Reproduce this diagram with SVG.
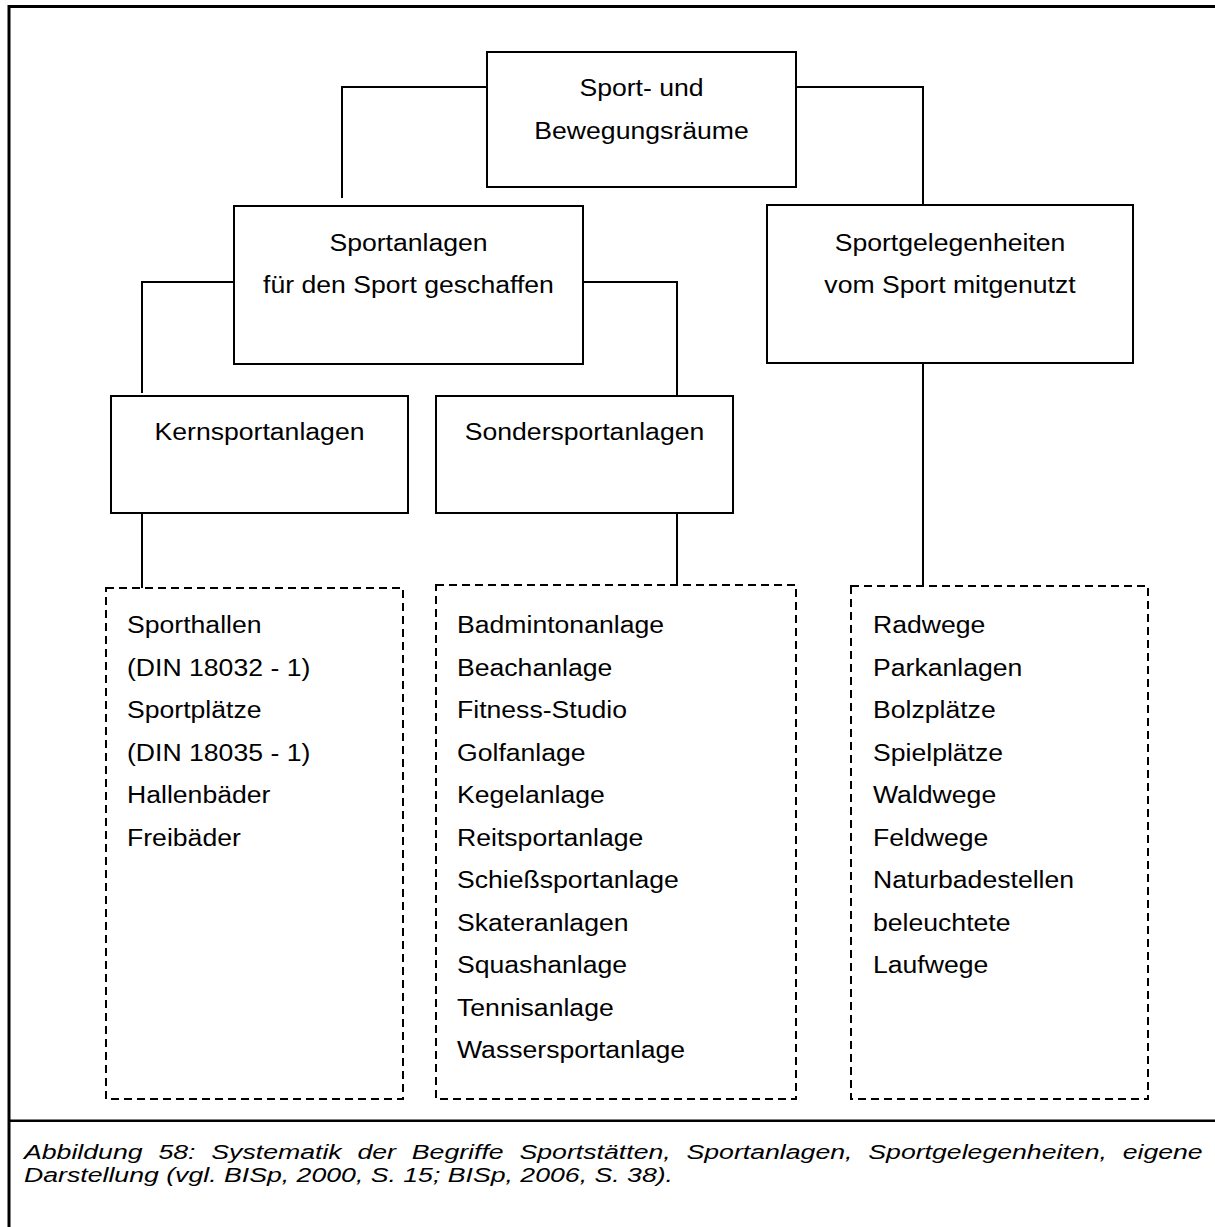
<svg xmlns="http://www.w3.org/2000/svg" width="1215" height="1227" viewBox="0 0 1215 1227">
<style>
  .frame{fill:none;stroke:#000;stroke-width:3}
  .box{fill:#fff;stroke:#000;stroke-width:2}
  .dash{fill:none;stroke:#000;stroke-width:2;stroke-dasharray:8 5}
  .conn{fill:none;stroke:#000;stroke-width:2}
  text{font-family:"Liberation Sans",Arial,sans-serif;font-size:24.5px;fill:#000}
  .c{text-anchor:middle}
  .cap{font-size:20.5px;font-style:italic}
</style>
<rect width="1215" height="1227" fill="#fff"/>
<g id="frame">
  <path class="frame" d="M9,1227 V6.5 H1215"/>
  <path d="M9,1120.7 H1215" stroke="#000" stroke-width="2.5" fill="none"/>
</g>
<g id="connectors">
  <path class="conn" d="M487,87 H342 V198"/>
  <path class="conn" d="M796,87 H923 V205"/>
  <path class="conn" d="M234,282 H142 V393"/>
  <path class="conn" d="M583,282 H677 V396"/>
  <path class="conn" d="M142,513 V588"/>
  <path class="conn" d="M677,513 V585"/>
  <path class="conn" d="M923,363 V586"/>
</g>
<g id="node-root">
  <rect class="box" x="487" y="52" width="309" height="135"/>
  <text class="c" transform="translate(641.5,96) scale(1.086,1)">Sport- und</text>
  <text class="c" transform="translate(641.5,139) scale(1.086,1)">Bewegungsräume</text>
</g>
<g id="node-sportanlagen">
  <rect class="box" x="234" y="206" width="349" height="158"/>
  <text class="c" transform="translate(408.5,251) scale(1.086,1)">Sportanlagen</text>
  <text class="c" transform="translate(408.5,292.5) scale(1.086,1)">für den Sport geschaffen</text>
</g>
<g id="node-sportgelegenheiten">
  <rect class="box" x="767" y="205" width="366" height="158"/>
  <text class="c" transform="translate(950,251) scale(1.086,1)">Sportgelegenheiten</text>
  <text class="c" transform="translate(950,292.5) scale(1.086,1)">vom Sport mitgenutzt</text>
</g>
<g id="node-kernsportanlagen">
  <rect class="box" x="111" y="396" width="297" height="117"/>
  <text class="c" transform="translate(259.5,440) scale(1.086,1)">Kernsportanlagen</text>
</g>
<g id="node-sondersportanlagen">
  <rect class="box" x="436" y="396" width="297" height="117"/>
  <text class="c" transform="translate(584.5,440) scale(1.086,1)">Sondersportanlagen</text>
</g>
<g id="list-kern">
  <rect class="dash" x="106" y="588" width="297" height="511"/>
  <g transform="translate(127,0) scale(1.086,1)">
    <text x="0" y="633.3">Sporthallen</text>
    <text x="0" y="675.8">(DIN 18032 - 1)</text>
    <text x="0" y="718.3">Sportplätze</text>
    <text x="0" y="760.8">(DIN 18035 - 1)</text>
    <text x="0" y="803.3">Hallenbäder</text>
    <text x="0" y="845.8">Freibäder</text>
  </g>
</g>
<g id="list-sonder">
  <rect class="dash" x="436" y="585" width="360" height="514"/>
  <g transform="translate(457,0) scale(1.086,1)">
    <text x="0" y="633.3">Badmintonanlage</text>
    <text x="0" y="675.8">Beachanlage</text>
    <text x="0" y="718.3">Fitness-Studio</text>
    <text x="0" y="760.8">Golfanlage</text>
    <text x="0" y="803.3">Kegelanlage</text>
    <text x="0" y="845.8">Reitsportanlage</text>
    <text x="0" y="888.3">Schießsportanlage</text>
    <text x="0" y="930.8">Skateranlagen</text>
    <text x="0" y="973.3">Squashanlage</text>
    <text x="0" y="1015.8">Tennisanlage</text>
    <text x="0" y="1058.3">Wassersportanlage</text>
  </g>
</g>
<g id="list-gelegenheiten">
  <rect class="dash" x="851" y="586" width="297" height="513"/>
  <g transform="translate(873,0) scale(1.086,1)">
    <text x="0" y="633.3">Radwege</text>
    <text x="0" y="675.8">Parkanlagen</text>
    <text x="0" y="718.3">Bolzplätze</text>
    <text x="0" y="760.8">Spielplätze</text>
    <text x="0" y="803.3">Waldwege</text>
    <text x="0" y="845.8">Feldwege</text>
    <text x="0" y="888.3">Naturbadestellen</text>
    <text x="0" y="930.8">beleuchtete</text>
    <text x="0" y="973.3">Laufwege</text>
  </g>
</g>
<g id="caption">
  <text class="cap" lengthAdjust="spacingAndGlyphs" x="24" y="1159" textLength="118.6">Abbildung</text>
  <text class="cap" lengthAdjust="spacingAndGlyphs" x="158.4" y="1159" textLength="37.1">58:</text>
  <text class="cap" lengthAdjust="spacingAndGlyphs" x="211.3" y="1159" textLength="130.4">Systematik</text>
  <text class="cap" lengthAdjust="spacingAndGlyphs" x="357.5" y="1159" textLength="38.5">der</text>
  <text class="cap" lengthAdjust="spacingAndGlyphs" x="411.8" y="1159" textLength="91.9">Begriffe</text>
  <text class="cap" lengthAdjust="spacingAndGlyphs" x="519.5" y="1159" textLength="151.2">Sportstätten,</text>
  <text class="cap" lengthAdjust="spacingAndGlyphs" x="686.5" y="1159" textLength="166">Sportanlagen,</text>
  <text class="cap" lengthAdjust="spacingAndGlyphs" x="868.3" y="1159" textLength="238.6">Sportgelegenheiten,</text>
  <text class="cap" lengthAdjust="spacingAndGlyphs" x="1122.7" y="1159" textLength="80">eigene</text>
  <text class="cap" lengthAdjust="spacingAndGlyphs" x="24" y="1182" textLength="649">Darstellung (vgl. BISp, 2000, S. 15; BISp, 2006, S. 38).</text>
</g>
</svg>
